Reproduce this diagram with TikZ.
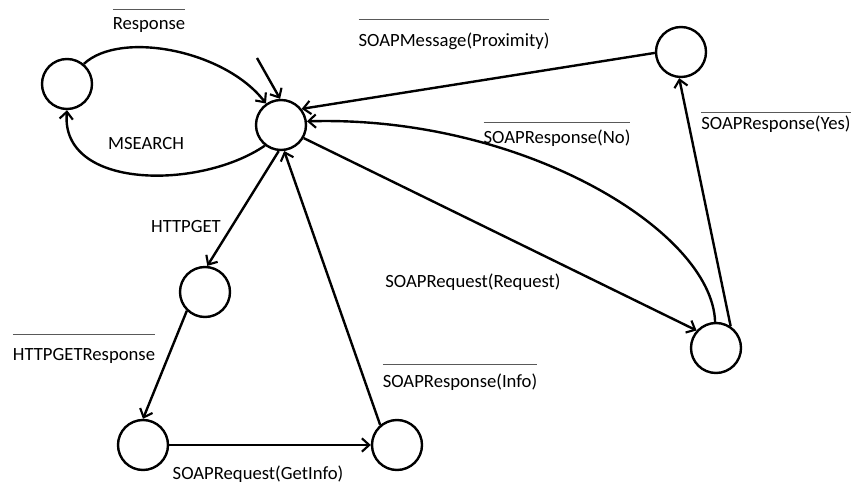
\documentclass[tikz,border=0pt]{standalone}
\usepackage{fontspec}
\usepackage{colortbl}
\setmainfont{Carlito}
\usetikzlibrary{arrows.meta}

\tikzset{
  state/.style={draw, circle, line width=1.8pt, minimum size=37.5pt, inner sep=0pt},
  trans/.style={line width=1.8pt, -{Straight Barb[length=5.5pt,width=10pt,line width=1.6pt]}},
  lbl/.style={anchor=base, inner sep=0pt, font=\fontsize{14}{16}\selectfont},
}
\arrayrulecolor{black!65}
\setlength{\arrayrulewidth}{0.8pt}
% output event: text with a bar over it
\newcommand{\outev}[2][15pt]{\begin{tabular}[b]{@{}c@{}}\hline\rule{0pt}{#1}#2\end{tabular}}

\begin{document}
\begin{tikzpicture}[x=0.75pt,y=0.75pt,yscale=-1]
\useasboundingbox (0,0) rectangle (859,484);

%Shape: Circle
\node [state] (search) at (67,84) {};
\node [state] (idle) at (281,125) {};
\node [state] (prox) at (681,52) {};
\node [state] (get) at (205,292) {};
\node [state] (info) at (143,445) {};
\node [state] (reply) at (397,445) {};
\node [state] (req) at (716,348) {};

%Straight Lines
\coordinate (start) at (257,58);
\draw [trans] (start) -- (idle.92);
\draw [trans] (prox.182) -- (idle.38);
\draw [trans] (req.56) -- (prox.266);
\draw [trans] (idle.-30) -- (req.138);
\draw [trans] (idle.265) -- (get.85);
\draw [trans] (get.226) -- (info.90);
\draw [trans] (info) -- (reply);
\draw [trans] (reply.130) -- (idle.277);

%Curve Lines
\draw [trans] (search.50) .. controls (120,30) and (225,50) .. (idle.125);
\draw [trans] (idle.232) .. controls (200,190) and (60,190) .. (search.270);
\draw [trans] (req.92) .. controls (712,230) and (520,115) .. (idle.8);

% Text Node
\node [lbl] (tResp) at (149,30) {\outev{Response}};
% Text Node
\node [lbl] (tSearch) at (146,150) {MSEARCH};
% Text Node
\node [lbl] (tProx) at (454,47) {\outev[20pt]{SOAPMessage(Proximity)}};
% Text Node
\node [lbl] (tNo) at (557,144) {\outev[16pt]{SOAPResponse(No)}};
% Text Node
\node [lbl] (tYes) at (776,130) {\outev[13pt]{SOAPResponse(Yes)}};
% Text Node
\node [lbl] (tGet) at (186,233) {HTTPGET};
% Text Node
\node [lbl] (tGetResp) at (84,360) {\outev[19pt]{HTTPGETResponse}};
% Text Node
\node [lbl] (tReq) at (473,287) {SOAPRequest(Request)};
% Text Node
\node [lbl] (tInfo) at (460,387) {\outev[16.5pt]{SOAPResponse(Info)}};
% Text Node
\node [lbl] (tGetInfo) at (258,479) {SOAPRequest(GetInfo)};

\end{tikzpicture}
\end{document}
